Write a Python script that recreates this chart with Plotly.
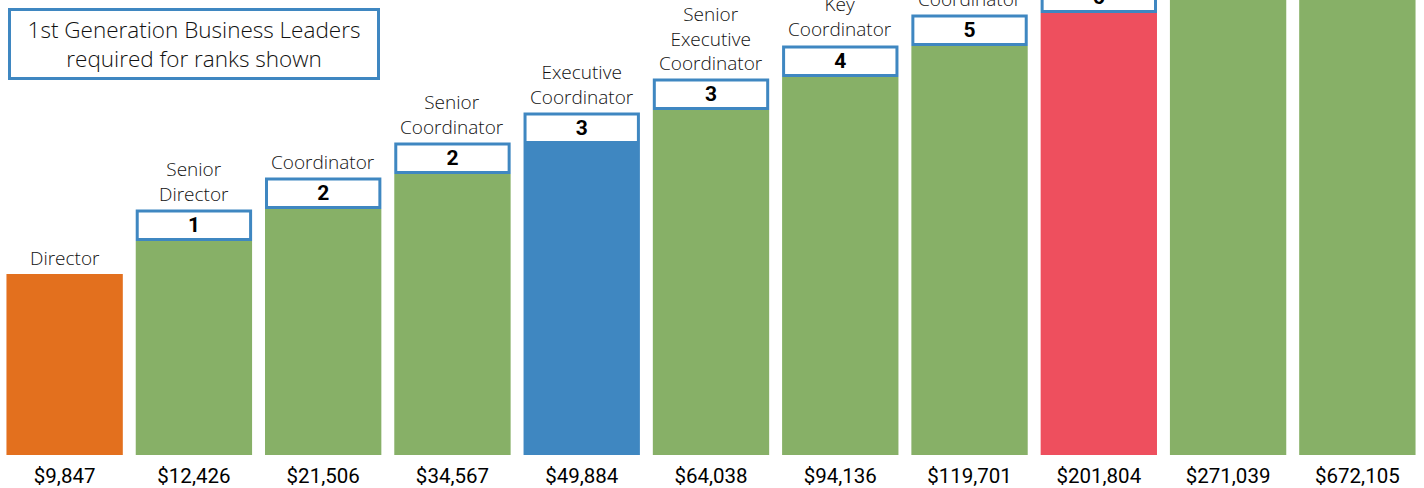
import plotly.graph_objects as go

ranks = ["Director", "Senior<br>Director", "Coordinator", "Senior<br>Coordinator",
         "Executive<br>Coordinator", "Senior<br>Executive<br>Coordinator", "Key<br>Coordinator",
         "Senior Key<br>Coordinator", "Executive Key<br>Coordinator", "", ""]
earnings = ["$9,847", "$12,426", "$21,506", "$34,567", "$49,884", "$64,038",
            "$94,136", "$119,701", "$201,804", "$271,039", "$672,105"]
heights = [181, 214, 246, 281, 311, 345, 378, 409, 442, 475, 508]
leaders = [None, 1, 2, 2, 3, 3, 4, 5, 6, 7, 8]
colors = ["#e3701e", "#87b067", "#87b067", "#87b067", "#3f87c1", "#87b067",
          "#87b067", "#87b067", "#ee4f5e", "#87b067", "#87b067"]

BOX = 28.5
BLUE = "#3f87c1"
x = list(range(len(ranks)))

fig = go.Figure()
fig.add_bar(x=x, y=heights, width=0.9, marker=dict(color=colors, line=dict(width=0)),
            hoverinfo="skip", showlegend=False)
fig.add_bar(x=x, y=[BOX if v is not None else None for v in leaders],
            base=[h + 1.5 for h in heights], width=0.877,
            marker=dict(color="white", line=dict(color=BLUE, width=3)),
            text=[f"<b>{v}</b>" if v is not None else "" for v in leaders],
            textposition="inside", insidetextanchor="middle", textangle=0,
            textfont=dict(family="Roboto, Arial", size=21, color="black"),
            constraintext="none", cliponaxis=True, hoverinfo="skip", showlegend=False)

for i, (r, h, v) in enumerate(zip(ranks, heights, leaders)):
    top = h + (BOX + 3 if v is not None else 0)
    fig.add_annotation(x=i, y=top, text=r, showarrow=False, yanchor="bottom",
                       yshift=1, font=dict(family="Open Sans", size=19, color="#111111", weight=300),
                       align="center")

fig.add_annotation(xref="paper", yref="paper", x=8 / 1422, y=1 - 8 / 455,
                   xanchor="left", yanchor="top", showarrow=False,
                   text="1st Generation Business Leaders<br>required for ranks shown",
                   font=dict(family="Open Sans", size=22.5, color="#111111", weight=300),
                   width=366, height=66, borderpad=0, bordercolor=BLUE, borderwidth=3,
                   bgcolor="white", align="center", valign="middle")

fig.update_layout(
    width=1424, height=488, barmode="overlay", bargap=0.1,
    margin=dict(l=0, r=2, t=0, b=33),
    plot_bgcolor="white", paper_bgcolor="white",
    xaxis=dict(tickmode="array", tickvals=x, ticktext=earnings, showgrid=False,
               zeroline=False, showline=False, ticks="", range=[-0.5, 10.5],
               ticklabelstandoff=6, fixedrange=True,
               tickfont=dict(family="Roboto", size=20.5, color="#000000")),
    yaxis=dict(range=[0, 455], visible=False, showgrid=False, zeroline=False, fixedrange=True),
)

fig.write_html("out.html", config={"displayModeBar": False},
               post_script="document.body.style.margin='0';")
